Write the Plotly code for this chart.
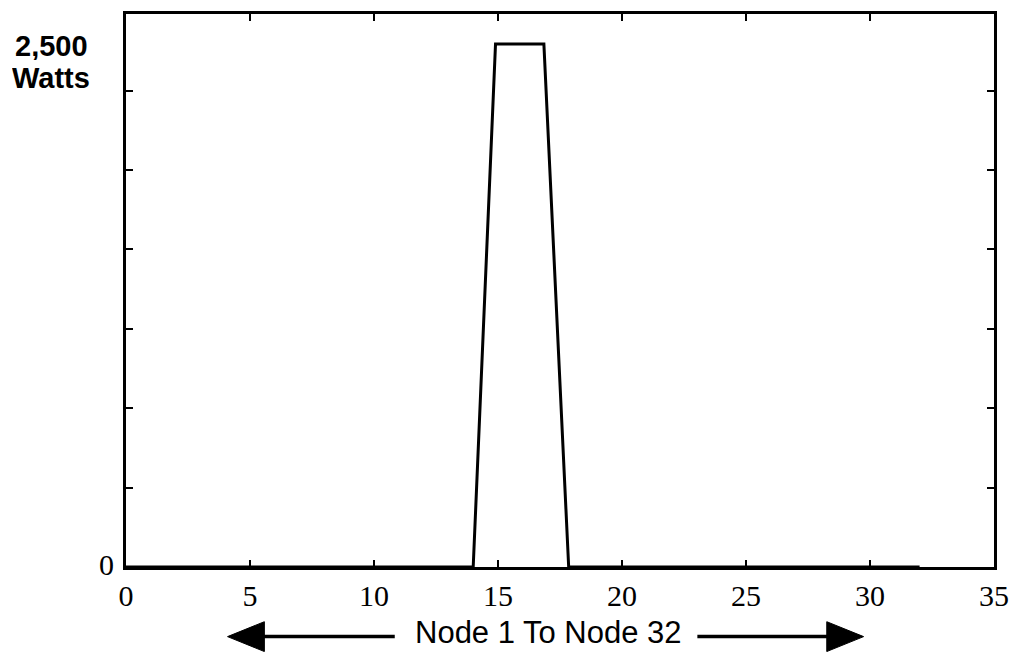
import plotly.graph_objects as go

# Data
node_x = [0, 14, 14.9, 16.85, 17.85, 32]
watts = [0, 0, 2745, 2745, 0, 0]

x_tick_vals = [0, 5, 10, 15, 20, 25, 30, 35]
x_tick_text = ["0", "5", "10", "15", "20", "25", "30", "35"]
y_tick_vals = [0, 416.667, 833.333, 1250, 1666.667, 2083.333, 2500]

W, H = 1020, 652
L, R, T, B = 126, 22, 11, 85
pw, ph = W - L - R, H - T - B


def px(X):
    return (X - L) / pw


def py(Y):
    return (H - B - Y) / ph


fig = go.Figure()
fig.add_trace(go.Scatter(x=node_x, y=watts, mode="lines",
                         line=dict(color="black", width=3), hoverinfo="skip"))

axis_common = dict(showline=True, linecolor="black", linewidth=3, mirror="ticks",
                   ticks="inside", ticklen=7, tickwidth=2, tickcolor="black",
                   showgrid=False, zeroline=False)

fig.update_xaxes(range=[0, 35], tickmode="array", tickvals=x_tick_vals,
                 ticktext=x_tick_text,
                 tickfont=dict(family="Liberation Serif", size=30, color="black"),
                 ticklabelstandoff=0, **axis_common)
fig.update_yaxes(range=[0, 2902], tickmode="array", tickvals=y_tick_vals,
                 showticklabels=False, **axis_common)

# y labels
fig.add_annotation(x=px(90), y=py(43), xref="paper", yref="paper", text="<b>2,500</b>",
                   showarrow=False, xanchor="right", yanchor="middle", height=28,
                   font=dict(family="Liberation Sans", size=29, color="black"))
fig.add_annotation(x=px(92), y=py(75), xref="paper", yref="paper", text="<b>Watts</b>",
                   showarrow=False, xanchor="right", yanchor="middle", height=28,
                   font=dict(family="Liberation Sans", size=29, color="black"))
fig.add_annotation(x=px(116), y=py(564), xref="paper", yref="paper", text="0",
                   showarrow=False, xanchor="right", yanchor="middle",
                   font=dict(family="Liberation Serif", size=30, color="black"))

# x axis caption with arrows
fig.add_annotation(x=px(550), y=py(633), xref="paper", yref="paper",
                   text="Node 1 To Node 32", showarrow=False,
                   xanchor="center", yanchor="middle",
                   font=dict(family="Liberation Sans", size=31, color="black"))

ay = 637
# left arrow
fig.add_shape(type="line", xref="paper", yref="paper",
              x0=px(262), y0=py(ay), x1=px(396), y1=py(ay),
              line=dict(color="black", width=3.5))
fig.add_shape(type="path", xref="paper", yref="paper",
              path=f"M {px(228)} {py(ay)} L {px(265)} {py(ay-15)} L {px(265)} {py(ay+15)} Z",
              fillcolor="black", line=dict(color="black", width=1))
# right arrow
fig.add_shape(type="line", xref="paper", yref="paper",
              x0=px(700), y0=py(ay), x1=px(832), y1=py(ay),
              line=dict(color="black", width=3.5))
fig.add_shape(type="path", xref="paper", yref="paper",
              path=f"M {px(867)} {py(ay)} L {px(830)} {py(ay-15)} L {px(830)} {py(ay+15)} Z",
              fillcolor="black", line=dict(color="black", width=1))

fig.update_layout(width=W, height=H, margin=dict(l=L, r=R, t=T, b=B),
                  plot_bgcolor="white", paper_bgcolor="white", showlegend=False)

fig.write_html("out.html", config={"displayModeBar": False},
               post_script="document.body.style.margin='0';document.body.style.overflow='hidden';")
